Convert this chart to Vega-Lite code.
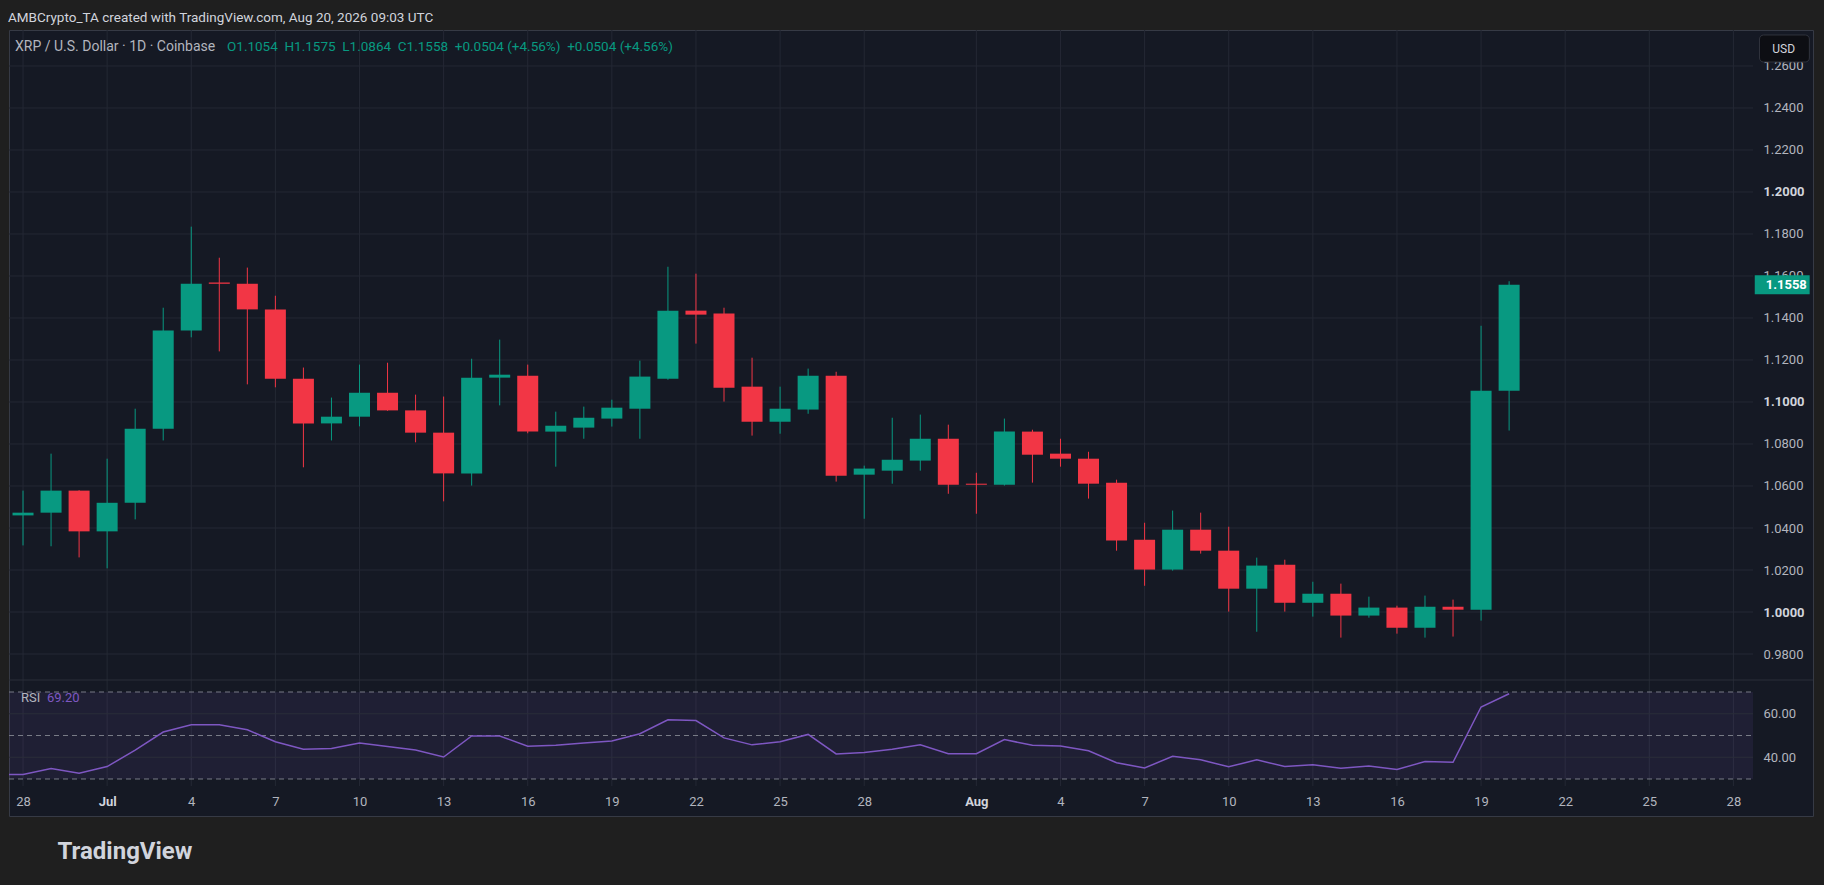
{
  "$schema": "https://vega.github.io/schema/vega-lite/v6.json",
  "description": "XRP / U.S. Dollar daily candles with RSI, TradingView dark style.",
  "width": 1804,
  "height": 786,
  "autosize": {"type": "none"},
  "padding": {"left": 9, "top": 30, "right": 11, "bottom": 69},
  "background": "#1f1f1f",
  "title": {
    "text": "AMBCrypto_TA created with TradingView.com, Aug 20, 2026 09:03 UTC",
    "anchor": "start",
    "frame": "group",
    "font": "Roboto",
    "fontSize": 13.5,
    "fontWeight": "normal",
    "color": "#d1d4dc",
    "offset": 5,
    "dx": -1
  },
  "datasets": {
    "candles": [
      {"date": "2026-06-28", "open": 1.0460, "high": 1.0578, "low": 1.0317, "close": 1.0473},
      {"date": "2026-06-29", "open": 1.0473, "high": 1.0754, "low": 1.0313, "close": 1.0578},
      {"date": "2026-06-30", "open": 1.0578, "high": 1.0580, "low": 1.0260, "close": 1.0384},
      {"date": "2026-07-01", "open": 1.0384, "high": 1.0730, "low": 1.0208, "close": 1.0520},
      {"date": "2026-07-02", "open": 1.0520, "high": 1.0968, "low": 1.0441, "close": 1.0873},
      {"date": "2026-07-03", "open": 1.0873, "high": 1.1449, "low": 1.0817, "close": 1.1340},
      {"date": "2026-07-04", "open": 1.1340, "high": 1.1835, "low": 1.1308, "close": 1.1563},
      {"date": "2026-07-05", "open": 1.1569, "high": 1.1687, "low": 1.1241, "close": 1.1563},
      {"date": "2026-07-06", "open": 1.1563, "high": 1.1640, "low": 1.1084, "close": 1.1441},
      {"date": "2026-07-07", "open": 1.1441, "high": 1.1506, "low": 1.1070, "close": 1.1111},
      {"date": "2026-07-08", "open": 1.1111, "high": 1.1164, "low": 1.0689, "close": 1.0898},
      {"date": "2026-07-09", "open": 1.0898, "high": 1.1021, "low": 1.0817, "close": 1.0930},
      {"date": "2026-07-10", "open": 1.0930, "high": 1.1178, "low": 1.0884, "close": 1.1044},
      {"date": "2026-07-11", "open": 1.1044, "high": 1.1187, "low": 1.0958, "close": 1.0960},
      {"date": "2026-07-12", "open": 1.0960, "high": 1.1035, "low": 1.0808, "close": 1.0854},
      {"date": "2026-07-13", "open": 1.0854, "high": 1.1026, "low": 1.0527, "close": 1.0660},
      {"date": "2026-07-14", "open": 1.0660, "high": 1.1206, "low": 1.0602, "close": 1.1116},
      {"date": "2026-07-15", "open": 1.1116, "high": 1.1297, "low": 1.0984, "close": 1.1130},
      {"date": "2026-07-16", "open": 1.1125, "high": 1.1178, "low": 1.0851, "close": 1.0859},
      {"date": "2026-07-17", "open": 1.0859, "high": 1.0954, "low": 1.0692, "close": 1.0887},
      {"date": "2026-07-18", "open": 1.0878, "high": 1.0978, "low": 1.0825, "close": 1.0925},
      {"date": "2026-07-19", "open": 1.0921, "high": 1.1011, "low": 1.0883, "close": 1.0973},
      {"date": "2026-07-20", "open": 1.0968, "high": 1.1197, "low": 1.0825, "close": 1.1121},
      {"date": "2026-07-21", "open": 1.1111, "high": 1.1644, "low": 1.1106, "close": 1.1435},
      {"date": "2026-07-22", "open": 1.1435, "high": 1.1611, "low": 1.1278, "close": 1.1416},
      {"date": "2026-07-23", "open": 1.1421, "high": 1.1449, "low": 1.1002, "close": 1.1068},
      {"date": "2026-07-24", "open": 1.1073, "high": 1.1211, "low": 1.0840, "close": 1.0906},
      {"date": "2026-07-25", "open": 1.0906, "high": 1.1073, "low": 1.0849, "close": 1.0968},
      {"date": "2026-07-26", "open": 1.0964, "high": 1.1159, "low": 1.0944, "close": 1.1125},
      {"date": "2026-07-27", "open": 1.1125, "high": 1.1144, "low": 1.0621, "close": 1.0649},
      {"date": "2026-07-28", "open": 1.0654, "high": 1.0697, "low": 1.0444, "close": 1.0683},
      {"date": "2026-07-29", "open": 1.0673, "high": 1.0925, "low": 1.0611, "close": 1.0725},
      {"date": "2026-07-30", "open": 1.0721, "high": 1.0940, "low": 1.0673, "close": 1.0825},
      {"date": "2026-07-31", "open": 1.0825, "high": 1.0892, "low": 1.0563, "close": 1.0606},
      {"date": "2026-08-01", "open": 1.0611, "high": 1.0663, "low": 1.0468, "close": 1.0606},
      {"date": "2026-08-02", "open": 1.0606, "high": 1.0921, "low": 1.0602, "close": 1.0859},
      {"date": "2026-08-03", "open": 1.0859, "high": 1.0868, "low": 1.0616, "close": 1.0749},
      {"date": "2026-08-04", "open": 1.0754, "high": 1.0825, "low": 1.0692, "close": 1.0730},
      {"date": "2026-08-05", "open": 1.0730, "high": 1.0763, "low": 1.0540, "close": 1.0611},
      {"date": "2026-08-06", "open": 1.0616, "high": 1.0630, "low": 1.0292, "close": 1.0340},
      {"date": "2026-08-07", "open": 1.0344, "high": 1.0425, "low": 1.0125, "close": 1.0202},
      {"date": "2026-08-08", "open": 1.0202, "high": 1.0483, "low": 1.0197, "close": 1.0392},
      {"date": "2026-08-09", "open": 1.0392, "high": 1.0473, "low": 1.0278, "close": 1.0292},
      {"date": "2026-08-10", "open": 1.0292, "high": 1.0406, "low": 1.0002, "close": 1.0111},
      {"date": "2026-08-11", "open": 1.0111, "high": 1.0259, "low": 0.9906, "close": 1.0221},
      {"date": "2026-08-12", "open": 1.0225, "high": 1.0249, "low": 1.0002, "close": 1.0044},
      {"date": "2026-08-13", "open": 1.0044, "high": 1.0144, "low": 0.9978, "close": 1.0087},
      {"date": "2026-08-14", "open": 1.0087, "high": 1.0135, "low": 0.9878, "close": 0.9983},
      {"date": "2026-08-15", "open": 0.9983, "high": 1.0073, "low": 0.9973, "close": 1.0021},
      {"date": "2026-08-16", "open": 1.0021, "high": 1.0030, "low": 0.9897, "close": 0.9925},
      {"date": "2026-08-17", "open": 0.9925, "high": 1.0078, "low": 0.9878, "close": 1.0025},
      {"date": "2026-08-18", "open": 1.0025, "high": 1.0059, "low": 0.9883, "close": 1.0011},
      {"date": "2026-08-19", "open": 1.0011, "high": 1.1363, "low": 0.9959, "close": 1.1054},
      {"date": "2026-08-20", "open": 1.1054, "high": 1.1575, "low": 1.0864, "close": 1.1558}
    ],
    "rsi": [
      {"date": "2026-06-27", "rsi": 32.0},
      {"date": "2026-06-28", "rsi": 32.1},
      {"date": "2026-06-29", "rsi": 34.8},
      {"date": "2026-06-30", "rsi": 32.6},
      {"date": "2026-07-01", "rsi": 35.7},
      {"date": "2026-07-02", "rsi": 43.3},
      {"date": "2026-07-03", "rsi": 51.6},
      {"date": "2026-07-04", "rsi": 54.9},
      {"date": "2026-07-05", "rsi": 54.9},
      {"date": "2026-07-06", "rsi": 52.6},
      {"date": "2026-07-07", "rsi": 47.1},
      {"date": "2026-07-08", "rsi": 43.7},
      {"date": "2026-07-09", "rsi": 44.0},
      {"date": "2026-07-10", "rsi": 46.5},
      {"date": "2026-07-11", "rsi": 44.9},
      {"date": "2026-07-12", "rsi": 43.3},
      {"date": "2026-07-13", "rsi": 40.1},
      {"date": "2026-07-14", "rsi": 49.8},
      {"date": "2026-07-15", "rsi": 49.8},
      {"date": "2026-07-16", "rsi": 45.1},
      {"date": "2026-07-17", "rsi": 45.5},
      {"date": "2026-07-18", "rsi": 46.5},
      {"date": "2026-07-19", "rsi": 47.5},
      {"date": "2026-07-20", "rsi": 50.8},
      {"date": "2026-07-21", "rsi": 57.2},
      {"date": "2026-07-22", "rsi": 56.9},
      {"date": "2026-07-23", "rsi": 48.9},
      {"date": "2026-07-24", "rsi": 45.7},
      {"date": "2026-07-25", "rsi": 47.1},
      {"date": "2026-07-26", "rsi": 50.5},
      {"date": "2026-07-27", "rsi": 41.5},
      {"date": "2026-07-28", "rsi": 42.2},
      {"date": "2026-07-29", "rsi": 43.7},
      {"date": "2026-07-30", "rsi": 45.7},
      {"date": "2026-07-31", "rsi": 41.6},
      {"date": "2026-08-01", "rsi": 41.6},
      {"date": "2026-08-02", "rsi": 48.1},
      {"date": "2026-08-03", "rsi": 45.5},
      {"date": "2026-08-04", "rsi": 45.2},
      {"date": "2026-08-05", "rsi": 43.0},
      {"date": "2026-08-06", "rsi": 37.5},
      {"date": "2026-08-07", "rsi": 35.1},
      {"date": "2026-08-08", "rsi": 40.4},
      {"date": "2026-08-09", "rsi": 38.8},
      {"date": "2026-08-10", "rsi": 35.6},
      {"date": "2026-08-11", "rsi": 38.8},
      {"date": "2026-08-12", "rsi": 35.7},
      {"date": "2026-08-13", "rsi": 36.6},
      {"date": "2026-08-14", "rsi": 35.0},
      {"date": "2026-08-15", "rsi": 36.0},
      {"date": "2026-08-16", "rsi": 34.4},
      {"date": "2026-08-17", "rsi": 38.0},
      {"date": "2026-08-18", "rsi": 37.7},
      {"date": "2026-08-19", "rsi": 63.1},
      {"date": "2026-08-20", "rsi": 69.2}
    ],
    "notes": [
      {
        "symbol": "XRP / U.S. Dollar · 1D · Coinbase",
        "quote": "O1.1054\u00a0\u00a0H1.1575\u00a0\u00a0L1.0864\u00a0\u00a0C1.1558\u00a0\u00a0+0.0504 (+4.56%)\u00a0\u00a0+0.0504 (+4.56%)",
        "currency": "USD",
        "study": "RSI",
        "reading": 69.2
      }
    ],
    "tag": [{"price": 1.1558}],
    "pricegrid": [
      {"level": 0.98}, {"level": 1.0}, {"level": 1.02}, {"level": 1.04}, {"level": 1.06},
      {"level": 1.08}, {"level": 1.1}, {"level": 1.12}, {"level": 1.14}, {"level": 1.16},
      {"level": 1.18}, {"level": 1.2}, {"level": 1.22}, {"level": 1.24}, {"level": 1.26}
    ],
    "timegrid": [
      {"date": "2026-06-28"}, {"date": "2026-07-01"}, {"date": "2026-07-04"}, {"date": "2026-07-07"},
      {"date": "2026-07-10"}, {"date": "2026-07-13"}, {"date": "2026-07-16"}, {"date": "2026-07-19"},
      {"date": "2026-07-22"}, {"date": "2026-07-25"}, {"date": "2026-07-28"}, {"date": "2026-08-01"},
      {"date": "2026-08-04"}, {"date": "2026-08-07"}, {"date": "2026-08-10"}, {"date": "2026-08-13"},
      {"date": "2026-08-16"}, {"date": "2026-08-19"}, {"date": "2026-08-22"}, {"date": "2026-08-25"},
      {"date": "2026-08-28"}
    ],
    "rsigrid": [{"level": 60}, {"level": 40}],
    "levels": [{"level": 70}, {"level": 50}, {"level": 30}]
  },
  "layer": [
    {
      "layer": [
        {
          "data": {"name": "timegrid"},
          "mark": {"type": "rule", "color": "#242834", "strokeWidth": 1},
          "encoding": {
            "x": {
              "field": "date",
              "type": "temporal",
              "title": "TradingView",
              "scale": {
                "type": "utc",
                "domain": [
                  {"year": 2026, "month": 6, "date": 27, "hours": 12, "utc": true},
                  {"year": 2026, "month": 8, "date": 28, "hours": 16, "minutes": 45, "utc": true}
                ],
                "range": [0, 1744],
                "padding": 0
              },
              "axis": {
                "orient": "bottom",
                "offset": -30,
                "values": [
                  {"year": 2026, "month": 6, "date": 28, "utc": true},
                  {"year": 2026, "month": 7, "date": 1, "utc": true},
                  {"year": 2026, "month": 7, "date": 4, "utc": true},
                  {"year": 2026, "month": 7, "date": 7, "utc": true},
                  {"year": 2026, "month": 7, "date": 10, "utc": true},
                  {"year": 2026, "month": 7, "date": 13, "utc": true},
                  {"year": 2026, "month": 7, "date": 16, "utc": true},
                  {"year": 2026, "month": 7, "date": 19, "utc": true},
                  {"year": 2026, "month": 7, "date": 22, "utc": true},
                  {"year": 2026, "month": 7, "date": 25, "utc": true},
                  {"year": 2026, "month": 7, "date": 28, "utc": true},
                  {"year": 2026, "month": 8, "date": 1, "utc": true},
                  {"year": 2026, "month": 8, "date": 4, "utc": true},
                  {"year": 2026, "month": 8, "date": 7, "utc": true},
                  {"year": 2026, "month": 8, "date": 10, "utc": true},
                  {"year": 2026, "month": 8, "date": 13, "utc": true},
                  {"year": 2026, "month": 8, "date": 16, "utc": true},
                  {"year": 2026, "month": 8, "date": 19, "utc": true},
                  {"year": 2026, "month": 8, "date": 22, "utc": true},
                  {"year": 2026, "month": 8, "date": 25, "utc": true},
                  {"year": 2026, "month": 8, "date": 28, "utc": true}
                ],
                "labelExpr": "utcdate(datum.value) == 1 ? utcFormat(datum.value, '%b') : utcFormat(datum.value, '%-d')",
                "labelColor": {"condition": {"test": "utcdate(datum.value) == 1", "value": "#d1d4dc"}, "value": "#b2b5be"},
                "labelFontWeight": {"condition": {"test": "utcdate(datum.value) == 1", "value": "bold"}, "value": "normal"},
                "labelPadding": 9,
                "grid": false,
                "titleAnchor": "start",
                "titleAlign": "left",
                "titleX": 48,
                "titleY": 72,
                "titleBaseline": "alphabetic",
                "titleFont": "Roboto",
                "titleFontSize": 24,
                "titleFontWeight": "bold",
                "titleColor": "#d1d4dc"
              }
            },
            "y": {"datum": 1.27714},
            "y2": {"datum": 0.91714}
          }
        },
        {
          "data": {"name": "pricegrid"},
          "mark": {"type": "rule", "color": "#242834", "strokeWidth": 1},
          "encoding": {
            "x": {"datum": {"year": 2026, "month": 6, "date": 27, "hours": 12, "utc": true}, "type": "temporal"},
            "x2": {"datum": {"year": 2026, "month": 8, "date": 28, "hours": 16, "minutes": 45, "utc": true}},
            "y": {"field": "level", "type": "quantitative", "title": null}
          }
        },
        {
          "data": {"name": "notes"},
          "mark": {"type": "rule", "color": "#2a2e39", "strokeWidth": 1},
          "encoding": {"y": {"datum": 0.96762}}
        },
        {
          "data": {"name": "candles"},
          "mark": {"type": "rule", "strokeWidth": 1},
          "encoding": {
            "x": {"field": "date", "type": "temporal", "title": "TradingView"},
            "y": {
              "field": "low",
              "type": "quantitative",
              "title": null,
              "scale": {"domain": [0.96762, 1.27714], "range": [650, 0], "padding": 0, "zero": false, "nice": false},
              "axis": {
                "orient": "right",
                "offset": -60,
                "values": [0.98, 1.0, 1.02, 1.04, 1.06, 1.08, 1.1, 1.12, 1.14, 1.16, 1.18, 1.2, 1.22, 1.24, 1.26],
                "format": ".4f",
                "labelPadding": 10,
                "grid": false,
                "labelColor": {"condition": {"test": "abs(datum.value * 10 - round(datum.value * 10)) < 0.0001", "value": "#d1d4dc"}, "value": "#b2b5be"},
                "labelFontWeight": {"condition": {"test": "abs(datum.value * 10 - round(datum.value * 10)) < 0.0001", "value": "bold"}, "value": "normal"}
              }
            },
            "y2": {"field": "high"},
            "color": {"condition": {"test": "datum.close >= datum.open", "value": "#089981"}, "value": "#f23645"}
          }
        },
        {
          "data": {"name": "candles"},
          "mark": {"type": "bar", "size": 21},
          "encoding": {
            "x": {"field": "date", "type": "temporal", "title": "TradingView"},
            "y": {"field": "open", "type": "quantitative", "title": null},
            "y2": {"field": "close"},
            "color": {"condition": {"test": "datum.close >= datum.open", "value": "#089981"}, "value": "#f23645"}
          }
        },
        {
          "data": {"name": "notes"},
          "mark": {"type": "text", "align": "left", "baseline": "middle", "dx": 6, "fontSize": 14, "color": "#b2b5be"},
          "encoding": {
            "x": {"datum": {"year": 2026, "month": 6, "date": 27, "hours": 12, "utc": true}, "type": "temporal"},
            "y": {"datum": 1.26905},
            "text": {"field": "symbol"}
          }
        },
        {
          "data": {"name": "notes"},
          "mark": {"type": "text", "align": "left", "baseline": "middle", "dx": 218, "fontSize": 13.5, "color": "#089981"},
          "encoding": {
            "x": {"datum": {"year": 2026, "month": 6, "date": 27, "hours": 12, "utc": true}, "type": "temporal"},
            "y": {"datum": 1.26905},
            "text": {"field": "quote"}
          }
        },
        {
          "data": {"name": "tag"},
          "mark": {"type": "bar", "size": 19, "color": "#089981"},
          "encoding": {
            "x": {"datum": {"year": 2026, "month": 8, "date": 28, "hours": 18, "minutes": 15, "utc": true}, "type": "temporal"},
            "x2": {"datum": {"year": 2026, "month": 8, "date": 30, "hours": 17, "minutes": 15, "utc": true}},
            "y": {"field": "price", "type": "quantitative", "title": null}
          }
        },
        {
          "data": {"name": "tag"},
          "mark": {"type": "text", "align": "left", "baseline": "middle", "fontSize": 13, "fontWeight": "bold", "color": "#ffffff"},
          "encoding": {
            "x": {"datum": {"year": 2026, "month": 8, "date": 29, "hours": 3, "minutes": 40, "utc": true}, "type": "temporal"},
            "y": {"field": "price", "type": "quantitative", "title": null},
            "text": {"field": "price", "type": "quantitative", "format": ".4f"}
          }
        },
        {
          "data": {"name": "notes"},
          "mark": {"type": "rect", "fill": "#0d0e13", "stroke": "#30333d", "strokeWidth": 1, "cornerRadius": 4},
          "encoding": {
            "x": {"datum": {"year": 2026, "month": 8, "date": 28, "hours": 22, "minutes": 20, "utc": true}, "type": "temporal"},
            "x2": {"datum": {"year": 2026, "month": 8, "date": 30, "hours": 17, "utc": true}},
            "y": {"datum": 1.27476},
            "y2": {"datum": 1.2619}
          }
        },
        {
          "data": {"name": "notes"},
          "mark": {"type": "text", "align": "center", "baseline": "middle", "fontSize": 12, "color": "#d1d4dc"},
          "encoding": {
            "x": {"datum": {"year": 2026, "month": 8, "date": 29, "hours": 19, "utc": true}, "type": "temporal"},
            "y": {"datum": 1.26833},
            "text": {"field": "currency"}
          }
        }
      ]
    },
    {
      "layer": [
        {
          "data": {"name": "notes"},
          "mark": {"type": "rect", "fill": "#7e57c2", "opacity": 0.1},
          "encoding": {
            "x": {"datum": {"year": 2026, "month": 6, "date": 27, "hours": 12, "utc": true}, "type": "temporal"},
            "x2": {"datum": {"year": 2026, "month": 8, "date": 28, "hours": 16, "minutes": 45, "utc": true}},
            "y": {"datum": 70},
            "y2": {"datum": 30}
          }
        },
        {
          "data": {"name": "rsigrid"},
          "mark": {"type": "rule", "color": "#2a2e39", "strokeWidth": 1},
          "encoding": {
            "x": {"datum": {"year": 2026, "month": 6, "date": 27, "hours": 12, "utc": true}, "type": "temporal"},
            "x2": {"datum": {"year": 2026, "month": 8, "date": 28, "hours": 16, "minutes": 45, "utc": true}},
            "y": {"field": "level", "type": "quantitative", "title": null}
          }
        },
        {
          "data": {"name": "levels"},
          "mark": {"type": "rule", "color": "#787b86", "strokeWidth": 1, "strokeDash": [5, 4]},
          "encoding": {
            "x": {"datum": {"year": 2026, "month": 6, "date": 27, "hours": 12, "utc": true}, "type": "temporal"},
            "x2": {"datum": {"year": 2026, "month": 8, "date": 28, "hours": 16, "minutes": 45, "utc": true}},
            "y": {"field": "level", "type": "quantitative", "title": null}
          }
        },
        {
          "data": {"name": "rsi"},
          "mark": {"type": "line", "color": "#7e57c2", "strokeWidth": 1.5, "clip": true},
          "encoding": {
            "x": {"field": "date", "type": "temporal", "title": "TradingView"},
            "y": {
              "field": "rsi",
              "type": "quantitative",
              "title": null,
              "scale": {"domain": [26.78, 75.52], "range": [756, 650], "padding": 0, "zero": false, "nice": false},
              "axis": {
                "orient": "right",
                "offset": -60,
                "values": [40, 60],
                "format": ".2f",
                "labelPadding": 10,
                "grid": false
              }
            }
          }
        },
        {
          "data": {"name": "notes"},
          "mark": {"type": "text", "align": "left", "baseline": "middle", "dx": 12, "fontSize": 13, "color": "#b2b5be"},
          "encoding": {
            "x": {"datum": {"year": 2026, "month": 6, "date": 27, "hours": 12, "utc": true}, "type": "temporal"},
            "y": {"datum": 67.2},
            "text": {"field": "study"}
          }
        },
        {
          "data": {"name": "notes"},
          "mark": {"type": "text", "align": "left", "baseline": "middle", "dx": 38, "fontSize": 13, "color": "#7e57c2"},
          "encoding": {
            "x": {"datum": {"year": 2026, "month": 6, "date": 27, "hours": 12, "utc": true}, "type": "temporal"},
            "y": {"datum": 67.2},
            "text": {"field": "reading", "type": "quantitative", "format": ".2f"}
          }
        }
      ]
    }
  ],
  "resolve": {"scale": {"y": "independent"}, "axis": {"y": "independent"}},
  "config": {
    "font": "Roboto",
    "view": {"fill": "#151924", "stroke": "#363a45", "strokeWidth": 1},
    "axis": {
      "labelFont": "Roboto",
      "labelFontSize": 13,
      "labelColor": "#b2b5be",
      "domain": false,
      "ticks": false,
      "labelOverlap": false,
      "labelFlush": false
    },
    "text": {"font": "Roboto"}
  }
}
